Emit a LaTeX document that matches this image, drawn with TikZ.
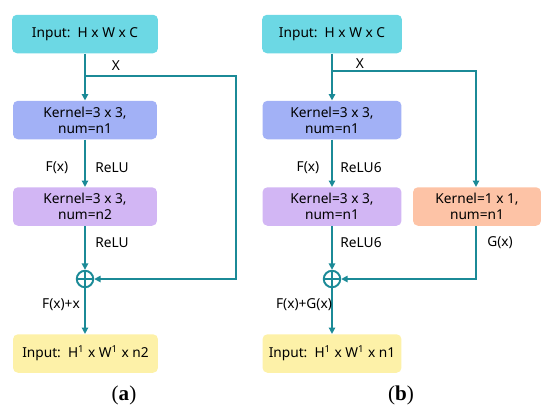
\documentclass[tikz,border=0pt]{standalone}
\usepackage{fontspec}
\setmainfont{Noto Sans}
\newfontfamily\capfont{Liberation Serif}
\usetikzlibrary{arrows.meta}

\definecolor{linecol}{RGB}{27,138,151}
\definecolor{incol}{RGB}{108,216,228}
\definecolor{kernelcol}{RGB}{162,177,246}
\definecolor{lavcol}{RGB}{210,182,244}
\definecolor{orcol}{RGB}{253,195,166}
\definecolor{outcol}{RGB}{253,241,168}

\begin{document}
\begin{tikzpicture}[x=0.02cm,y=-0.02cm,
  box/.style={rounded corners=2.8pt, minimum height=0.77cm, inner sep=0pt,
    align=center, font=\fontsize{7.8}{9}\selectfont},
  lbl/.style={font=\fontsize{7.8}{9}\selectfont, inner sep=0pt},
  arr/.style={-{Triangle[length=3.6pt,width=3.6pt]}, linecol, line width=1.1pt},
  wire/.style={linecol, line width=1.1pt},
  plus/.style={circle, draw=linecol, line width=1.1pt, minimum size=0.33cm, inner sep=0pt}]
  \useasboundingbox (0,0) rectangle (550,410);

  % (a)
  \node[box, fill=incol, minimum width=2.92cm] (inA) at (85,34) {Input:\ \ H x W x C};
  \node[box, fill=kernelcol, minimum width=2.88cm] (k1A) at (85,120) {Kernel=3 x 3,\\num=n1};
  \node[box, fill=lavcol, minimum width=2.88cm] (k2A) at (85,206.5) {Kernel=3 x 3,\\num=n2};
  \node[plus] (plusA) at (85,279) {};
  \node[box, fill=outcol, minimum width=2.9cm] (outA) at (85.5,353.5) {Input:\ \ H\textsuperscript{1} x W\textsuperscript{1} x n2};
  \coordinate (brA) at (85,76);
  \coordinate (cornA) at (236,76);

  \draw[arr] (inA) -- (k1A);
  \draw[arr] (k1A) -- (k2A);
  \draw[arr] (k2A) -- (plusA);
  \draw[arr] (plusA) -- (plusA |- outA.north);
  \draw[arr] (brA) -- (cornA) |- (plusA);
  \draw[wire] (plusA.north) -- (plusA.south) (plusA.west) -- (plusA.east);

  \node[lbl] (xA) at (116,66) {X};
  \node[lbl] (fA) at (57,168) {F(x)};
  \node[lbl] (r1A) at (112,168) {ReLU};
  \node[lbl] (r2A) at (112,243) {ReLU};
  \node[lbl] (sA) at (61,305) {F(x)+x};
  \node[font=\capfont\fontsize{12}{14}\selectfont] (capA) at (124,395) {(\textbf{a})};

  % (b)
  \node[box, fill=incol, minimum width=2.8cm] (inB) at (332,34) {Input:\ \ H x W x C};
  \node[box, fill=kernelcol, minimum width=2.78cm] (k1B) at (332,120) {Kernel=3 x 3,\\num=n1};
  \node[box, fill=lavcol, minimum width=2.78cm] (k2B) at (332,206.5) {Kernel=3 x 3,\\num=n1};
  \node[box, fill=orcol, minimum width=2.56cm] (k3B) at (477,206.5) {Kernel=1 x 1,\\num=n1};
  \node[plus] (plusB) at (332,279) {};
  \node[box, fill=outcol, minimum width=2.78cm] (outB) at (332,353.5) {Input:\ \ H\textsuperscript{1} x W\textsuperscript{1} x n1};
  \coordinate (brB) at (332,71);
  \coordinate (cornB) at (476,71);

  \draw[arr] (inB) -- (k1B);
  \draw[arr] (k1B) -- (k2B);
  \draw[arr] (k2B) -- (plusB);
  \draw[arr] (plusB) -- (outB);
  \draw[arr] (brB) -- (cornB) -- (cornB |- k3B.north);
  \draw[arr] (cornB |- k3B.south) |- (plusB);
  \draw[wire] (plusB.north) -- (plusB.south) (plusB.west) -- (plusB.east);

  \node[lbl] (xB) at (360,64) {X};
  \node[lbl] (fB) at (308,168) {F(x)};
  \node[lbl] (r1B) at (361,168) {ReLU6};
  \node[lbl] (r2B) at (361,243) {ReLU6};
  \node[lbl] (gB) at (500,243) {G(x)};
  \node[lbl] (sB) at (304,305) {F(x)+G(x)};
  \node[font=\capfont\fontsize{12}{14}\selectfont] (capB) at (401,395) {(\textbf{b})};
\end{tikzpicture}
\end{document}
